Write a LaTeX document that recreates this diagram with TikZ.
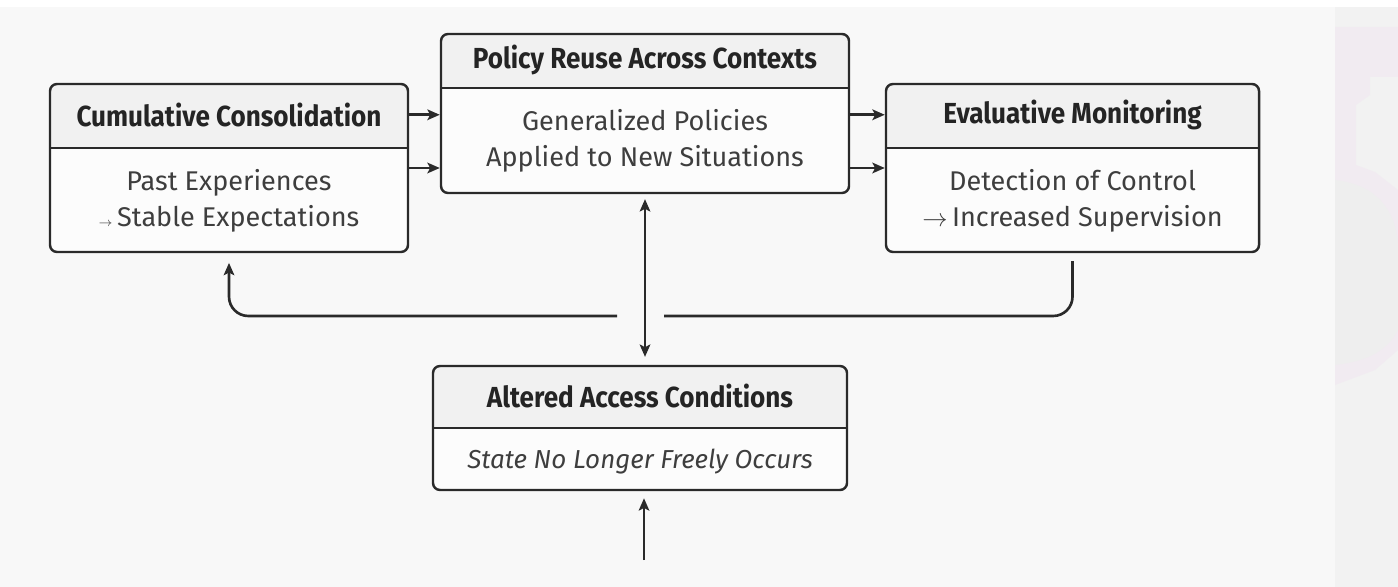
\documentclass[tikz,border=0pt]{standalone}
\usepackage{fontspec}
\setmainfont{Fira Sans}[BoldFeatures={FakeStretch=0.9}]
\usetikzlibrary{arrows.meta,positioning,calc}

\definecolor{pagebg}{HTML}{F8F8F8}
\definecolor{stripbg}{HTML}{F2F2F2}
\definecolor{stripmark}{HTML}{F1EBF1}
\definecolor{headfill}{HTML}{F1F1F1}
\definecolor{bodyfill}{HTML}{FCFCFC}
\definecolor{edge}{HTML}{2A2A2A}
\definecolor{ink}{HTML}{242424}

\newcommand{\pxu}{0.02cm}

\tikzset{
  panel/.style={draw=edge, line width=1.4pt, rounded corners=4pt, fill=bodyfill, inner sep=0pt,
    path picture={
      \fill[headfill, sharp corners] (path picture bounding box.north west) rectangle ([yshift=-#1*\pxu]path picture bounding box.north east);
      \draw[edge, line width=1.4pt, sharp corners] ([yshift=-#1*\pxu]path picture bounding box.north west) -- ([yshift=-#1*\pxu]path picture bounding box.north east);
    }},
  headtext/.style={font=\bfseries\fontsize{16.5}{19}\selectfont, text=ink, inner sep=0pt},
  bodytext/.style={font=\fontsize{15.4}{20.5}\selectfont, text=ink!88!white, align=center, inner sep=0pt},
  flow/.style={draw=edge, line width=1.5pt},
}

\begin{document}
\begin{tikzpicture}[x=0.02cm, y=-0.02cm, >={Stealth[length=7pt,width=6pt,inset=1.5pt]}]
    \fill[pagebg] (0,0) rectangle (1398,587);
    \fill[white] (0,0) rectangle (1398,7);
    \fill[stripbg] (1335,7) rectangle (1398,587);
    \fill[stripmark] (1335,27) -- (1398,27) -- (1398,77) -- (1370,77) -- (1370,95) -- (1356,105) -- (1356,165) -- (1375,172) -- (1398,190) -- (1398,350) -- (1375,370) -- (1335,385) -- cycle;
    \fill[stripbg!70!white!97!black] (1335,180) .. controls (1380,185) and (1398,215) .. (1398,250) -- (1398,330) .. controls (1385,355) and (1360,362) .. (1335,365) -- cycle;

    % boxes
    \node[panel=64, minimum width={358*\pxu}, minimum height={168*\pxu}] (cons) at (229,168) {};
    \node[panel=54, minimum width={408*\pxu}, minimum height={159*\pxu}] (pol) at (645,113.5) {};
    \node[panel=64, minimum width={373*\pxu}, minimum height={168*\pxu}] (mon) at (1072.5,168) {};
    \node[panel=62, minimum width={414*\pxu}, minimum height={124*\pxu}] (acc) at (640,428) {};

    \node[headtext] (cons-t) at ($(cons.north)+(0,32)$) {Cumulative Consolidation};
    \node[bodytext] (cons-b) at ($(cons.south)+(0,-52)$) {Past Experiences\\{\scriptsize$\rightarrow$}\,Stable Expectations};
    \node[headtext] (pol-t) at ($(pol.north)+(0,27)$) {Policy Reuse Across Contexts};
    \node[bodytext] (pol-b) at ($(pol.south)+(0,-53)$) {Generalized Policies\\Applied to New Situations};
    \node[headtext] (mon-t) at ($(mon.north)+(0,32)$) {Evaluative Monitoring};
    \node[bodytext] (mon-b) at ($(mon.south)+(0,-52)$) {Detection of Control\\$\rightarrow$\,Increased Supervision};
    \node[headtext] (acc-t) at ($(acc.north)+(0,31)$) {Altered Access Conditions};
    \node[bodytext, font=\itshape\fontsize{14.8}{20}\selectfont] (acc-b) at ($(acc.south)+(0,-30)$) {State No Longer Freely Occurs};

    % connectors
    \draw[flow,->] (cons.east |- cons-t) -- (pol.west |- cons-t);
    \draw[flow,->] (cons.east) -- (pol.west |- cons.east);
    \draw[flow,->] (pol.east |- mon-t) -- (mon.west |- mon-t);
    \draw[flow,->] (pol.east |- mon.west) -- (mon.west);
    \draw[flow,<->, shorten <=2.8pt, shorten >=4.5pt] (pol.south) -- (pol.south |- acc.north);

    \coordinate (lfork) at (617,316);
    \coordinate (rfork) at (664,316);
    \coordinate (src) at (644,560);
    \draw[flow,->, rounded corners=11pt, shorten >=5.5pt] (lfork) -| (cons.south);
    \draw[flow, rounded corners=11pt, shorten >=4.5pt] (rfork) -| (mon.south);
    \draw[flow,->, shorten >=4pt] (src) -- (src |- acc.south);
\end{tikzpicture}
\end{document}
